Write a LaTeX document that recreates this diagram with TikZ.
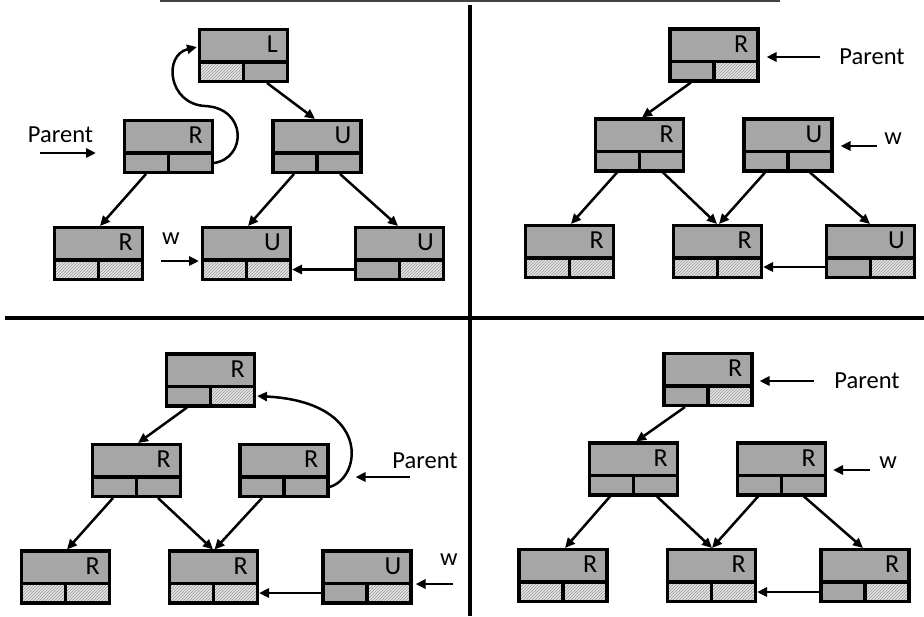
\documentclass[tikz,border=0pt]{standalone}
\usepackage{fontspec}
\setmainfont{Carlito}
\usetikzlibrary{calc,arrows.meta,patterns}

\definecolor{cellgray}{HTML}{A6A6A6}
\definecolor{hatchbg}{HTML}{E4E4E4}
\definecolor{hatchln}{HTML}{9A9A9A}
\definecolor{rulegray}{HTML}{444444}

\tikzset{
  blk/.style={rectangle, minimum width=91pt, minimum height=55pt,
    inner sep=0pt, outer sep=0pt, fill=cellgray},
  blkline/.style={line width=3.5pt, line join=miter},
  hatched/.style={fill=hatchbg,
    postaction={pattern=north east lines, pattern color=hatchln}},
  solidcell/.style={},
  arr/.style={line width=2.5pt, -{Triangle[length=10pt,width=9pt]}},
  tag/.style={font=\fontsize{26}{30}\selectfont, anchor=east, inner sep=0pt},
  lbl/.style={font=\fontsize{24.5}{28}\selectfont, inner sep=0pt},
  divider/.style={line width=4.5pt},
}

% #1 name, #2 centre, #3 letter, #4 left pointer cell, #5 right pointer cell
\newcommand\blkcell[5]{%
  \node[blk] (#1) at (#2) {};
  \path[#4] ($(#1.center)+(-44,26)$) rectangle ($(#1.center)+(0,6.5)$);
  \path[#5] ($(#1.center)+(0,26)$) rectangle ($(#1.center)+(44,6.5)$);
  \draw[blkline] ($(#1.center)+(-44,-26)$) rectangle ($(#1.center)+(44,26)$)
     ($(#1.center)+(-44,6.5)$) -- ($(#1.center)+(44,6.5)$)
     ($(#1.center)+(0,6.5)$) -- ($(#1.center)+(0,26)$);
  \node[tag] at ($(#1.center)+(34.5,-11)$) {#3};
}

\begin{document}
\begin{tikzpicture}[x=1pt,y=-1pt]
\useasboundingbox (0,0) rectangle (924,616);

% frame lines dividing the four states
\draw[rulegray, line width=4.5pt] (160,0) -- (780,0);
\draw[divider] (470,5) -- (470,616);
\draw[divider] (5,318) -- (924,318);

% ---------------- upper left ----------------
\blkcell{a1}{243.5,55.5}{L}{hatched}{solidcell}
\blkcell{a2}{168.5,146.5}{R}{solidcell}{solidcell}
\blkcell{a3}{317,146.5}{U}{solidcell}{solidcell}
\blkcell{a4}{98.5,253.5}{R}{hatched}{hatched}
\blkcell{a5}{246.5,253.5}{U}{hatched}{hatched}
\blkcell{a6}{399.5,253.5}{U}{solidcell}{hatched}

\draw[arr] ($(a1.south)+(23.5,0)$) -- ($(a3.north)+(-2,0)$);
\draw[arr] ($(a2.south)+(-22.5,0)$) -- ($(a4.north)+(1.5,0)$);
\draw[arr] ($(a3.south)+(-23,0)$) -- ($(a5.north)+(1.5,0)$);
\draw[arr] ($(a3.south)+(23,0)$) -- ($(a6.north)+(-1.5,0)$);
\draw[arr] ($(a6.west)+(0,16)$) -- ($(a5.east)+(0,16)$);
\draw[arr] ($(a2.east)+(0,16.5)$) .. controls (247,158) and (247,108) .. (205,106)
   .. controls (168,104) and (163,55) .. ($(a1.west)+(-1,-8.5)$);

\node[lbl] (pa) at (60.5,135) {Parent};
\coordinate (pa1) at (40,153);
\coordinate (pa2) at (96,153);
\draw[arr] (pa1) -- (pa2);
\node[lbl] (wa) at (171,239) {w};
\coordinate (wa1) at (161,261);
\draw[arr] (wa1) -- ($(a5.west)+(-2,7.5)$);

% ---------------- upper right ----------------
\blkcell{b1}{714,55}{R}{solidcell}{hatched}
\blkcell{b2}{639.5,145}{R}{solidcell}{solidcell}
\blkcell{b3}{788,145}{U}{solidcell}{solidcell}
\blkcell{b4}{569.5,251.5}{R}{hatched}{hatched}
\blkcell{b5}{717.5,251.5}{R}{hatched}{hatched}
\blkcell{b6}{870.5,251.5}{U}{solidcell}{hatched}

\draw[arr] ($(b1.south)+(-23,0)$) -- ($(b2.north)+(2.5,0)$);
\draw[arr] ($(b2.south)+(-22.5,0)$) -- ($(b4.north)+(1.5,0)$);
\draw[arr] ($(b2.south)+(23.5,0)$) -- ($(b5.north)+(-0.5,0)$);
\draw[arr] ($(b3.south)+(-23,0)$) -- ($(b5.north)+(1.5,0)$);
\draw[arr] ($(b3.south)+(22,0)$) -- ($(b6.north)+(-0.5,0)$);
\draw[arr] ($(b6.west)+(0,15.5)$) -- ($(b5.east)+(0,15.5)$);

\node[lbl] (pb) at (872,57) {Parent};
\coordinate (pb1) at (820,57);
\draw[arr] (pb1) -- ($(b1.east)+(7,2)$);
\node[lbl] (wb) at (893,139) {w};
\coordinate (wb1) at (877,146);
\draw[arr] (wb1) -- ($(b3.east)+(7,1)$);

% ---------------- lower left ----------------
\blkcell{c1}{210.5,380}{R}{solidcell}{hatched}
\blkcell{c2}{136.5,470.5}{R}{solidcell}{solidcell}
\blkcell{c3}{284,470.5}{R}{solidcell}{solidcell}
\blkcell{c4}{65.5,577}{R}{hatched}{hatched}
\blkcell{c5}{213.5,577}{R}{hatched}{hatched}
\blkcell{c6}{367,577}{U}{solidcell}{hatched}

\draw[arr] ($(c1.south)+(-23.5,0)$) -- ($(c2.north)+(1.5,0)$);
\draw[arr] ($(c2.south)+(-23.5,0)$) -- ($(c4.north)+(1.5,0)$);
\draw[arr] ($(c2.south)+(21.5,0)$) -- ($(c5.north)+(-0.5,0)$);
\draw[arr] ($(c3.south)+(-22,0)$) -- ($(c5.north)+(1,0)$);
\draw[arr] ($(c6.west)+(0,16)$) -- ($(c5.east)+(0,16)$);
\draw[arr] ($(c3.east)+(0,16.5)$) .. controls (362,478) and (372,402) .. ($(c1.east)+(1,16)$);

\node[lbl] (pc) at (425,461) {Parent};
\coordinate (pc1) at (410,477);
\draw[arr] (pc1) -- ($(c3.east)+(26,6.5)$);
\node[lbl] (wc) at (449,560) {w};
\coordinate (wc1) at (453,584);
\draw[arr] (wc1) -- ($(c6.east)+(3,7)$);

% ---------------- lower right ----------------
\blkcell{d1}{708,379.5}{R}{solidcell}{hatched}
\blkcell{d2}{633.5,469}{R}{solidcell}{solidcell}
\blkcell{d3}{781.5,469}{R}{solidcell}{solidcell}
\blkcell{d4}{563,575.5}{R}{hatched}{hatched}
\blkcell{d5}{711.5,575.5}{R}{hatched}{hatched}
\blkcell{d6}{865,575.5}{R}{solidcell}{hatched}

\draw[arr] ($(d1.south)+(-23,0)$) -- ($(d2.north)+(2.5,0)$);
\draw[arr] ($(d2.south)+(-23.5,0)$) -- ($(d4.north)+(2,0)$);
\draw[arr] ($(d2.south)+(23.5,0)$) -- ($(d5.north)+(0.5,0)$);
\draw[arr] ($(d3.south)+(-23.5,0)$) -- ($(d5.north)+(0.5,0)$);
\draw[arr] ($(d3.south)+(22.5,0)$) -- ($(d6.north)+(-2,0)$);
\draw[arr] ($(d6.west)+(0,16.5)$) -- ($(d5.east)+(0,16.5)$);

\node[lbl] (pd) at (867,381) {Parent};
\coordinate (pd1) at (814,381);
\draw[arr] (pd1) -- ($(d1.east)+(6,1.5)$);
\node[lbl] (wd) at (888,463) {w};
\coordinate (wd1) at (870,470);
\draw[arr] (wd1) -- ($(d3.east)+(6,1)$);
\end{tikzpicture}
\end{document}
